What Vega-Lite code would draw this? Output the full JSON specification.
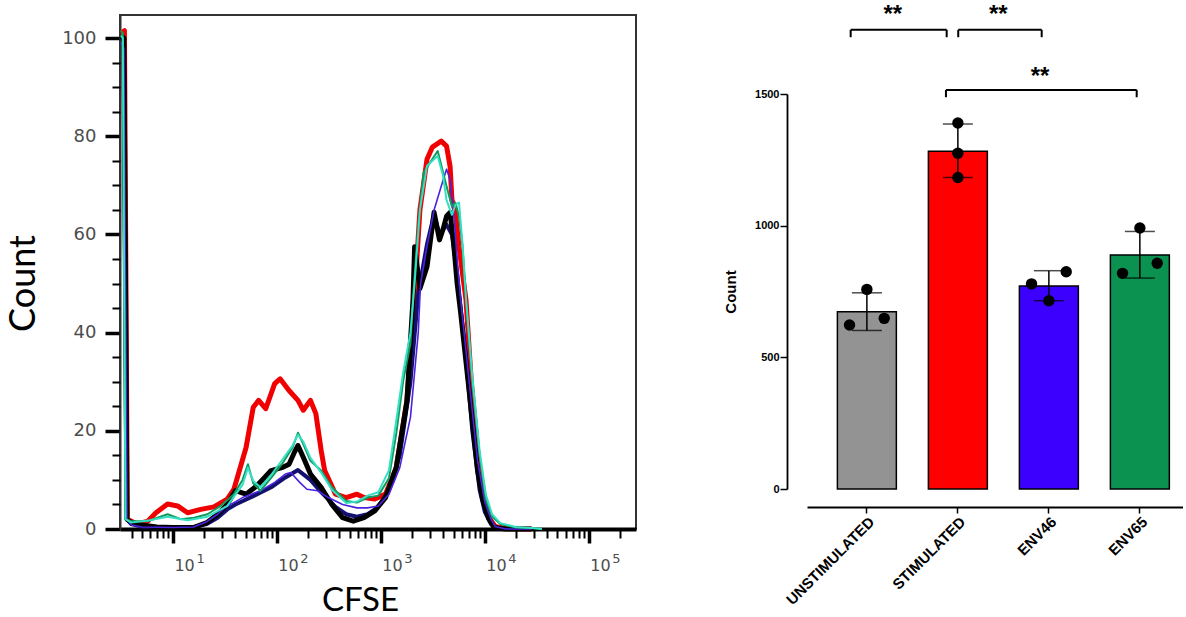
{
  "$schema": "https://vega.github.io/schema/vega-lite/v6.json",
  "background": "white",
  "padding": {"left": 4, "top": 2, "right": 0, "bottom": 0},
  "config": {"view": {"stroke": null}, "axis": {"grid": false}},
  "bounds": "flush",
  "spacing": 171,
  "datasets": {
    "hist": [
      {"s":"red","x":3.162,"y":101},{"s":"red","x":3.42,"y":101.5},{"s":"red","x":3.65,"y":2.0},{"s":"red","x":4.5,"y":1.0},{"s":"red","x":5.73,"y":1.6},{"s":"red","x":6.87,"y":3.3},{"s":"red","x":8.89,"y":5.1},{"s":"red","x":11.09,"y":4.7},{"s":"red","x":13.84,"y":3.3},{"s":"red","x":18.54,"y":4.0},{"s":"red","x":24.83,"y":4.5},{"s":"red","x":33.34,"y":6.1},{"s":"red","x":38.64,"y":8.1},{"s":"red","x":50.58,"y":16.6},{"s":"red","x":59.29,"y":24.8},{"s":"red","x":66.83,"y":26.2},{"s":"red","x":78.16,"y":24.5},{"s":"red","x":95.3,"y":29.6},{"s":"red","x":107.4,"y":30.6},{"s":"red","x":130.9,"y":28.2},{"s":"red","x":159.6,"y":26.2},{"s":"red","x":179.5,"y":24.2},{"s":"red","x":210.4,"y":26.2},{"s":"red","x":237.1,"y":23.5},{"s":"red","x":266.7,"y":16.0},{"s":"red","x":288.4,"y":11.9},{"s":"red","x":366.4,"y":7.1},{"s":"red","x":464.5,"y":6.4},{"s":"red","x":588.8,"y":7.1},{"s":"red","x":688.7,"y":6.4},{"s":"red","x":875,"y":6.1},{"s":"red","x":1109,"y":7.1},{"s":"red","x":1406,"y":12.5},{"s":"red","x":1782,"y":26.2},{"s":"red","x":2037,"y":42},{"s":"red","x":2377,"y":65},{"s":"red","x":2780,"y":75.3},{"s":"red","x":3133,"y":77.8},{"s":"red","x":3811,"y":79},{"s":"red","x":4285,"y":78},{"s":"red","x":4634,"y":73.9},{"s":"red","x":4831,"y":67.1},{"s":"red","x":5212,"y":64.5},{"s":"red","x":5649,"y":57.5},{"s":"red","x":6592,"y":46.7},{"s":"red","x":7413,"y":30},{"s":"red","x":8710,"y":14},{"s":"red","x":10000,"y":6},{"s":"red","x":11220,"y":2},{"s":"red","x":12589,"y":0.5},{"s":"red","x":15849,"y":0.1},{"s":"red","x":28184,"y":0},
      {"s":"navy","x":3.162,"y":100},{"s":"navy","x":3.38,"y":99.5},{"s":"navy","x":3.62,"y":2},{"s":"navy","x":3.98,"y":1.0},{"s":"navy","x":5.0,"y":0.5},{"s":"navy","x":7.0,"y":0.3},{"s":"navy","x":10,"y":0.3},{"s":"navy","x":15.85,"y":0.4},{"s":"navy","x":21.18,"y":1.0},{"s":"navy","x":26.92,"y":2.3},{"s":"navy","x":33.34,"y":4.0},{"s":"navy","x":39.9,"y":5.0},{"s":"navy","x":59.29,"y":6.7},{"s":"navy","x":88.1,"y":8.5},{"s":"navy","x":120.8,"y":10.5},{"s":"navy","x":159.6,"y":12},{"s":"navy","x":210.4,"y":10},{"s":"navy","x":266.7,"y":7.5},{"s":"navy","x":366.4,"y":4.5},{"s":"navy","x":464.5,"y":3.0},{"s":"navy","x":588.8,"y":2.5},{"s":"navy","x":746.4,"y":3.0},{"s":"navy","x":946.2,"y":4.5},{"s":"navy","x":1199,"y":8},{"s":"navy","x":1521,"y":15},{"s":"navy","x":1928,"y":30},{"s":"navy","x":2291,"y":48},{"s":"navy","x":2780,"y":58},{"s":"navy","x":3251,"y":64},{"s":"navy","x":3664,"y":60},{"s":"navy","x":4285,"y":62},{"s":"navy","x":4831,"y":60},{"s":"navy","x":5420,"y":52},{"s":"navy","x":5861,"y":45},{"s":"navy","x":6592,"y":35},{"s":"navy","x":7586,"y":20},{"s":"navy","x":8913,"y":8},{"s":"navy","x":10000,"y":3.5},{"s":"navy","x":11482,"y":1},{"s":"navy","x":12589,"y":0.3},{"s":"navy","x":15849,"y":0},{"s":"navy","x":28184,"y":0},
      {"s":"black","x":3.162,"y":100.5},{"s":"black","x":3.38,"y":100},{"s":"black","x":3.62,"y":2},{"s":"black","x":3.98,"y":1.3},{"s":"black","x":5.0,"y":0.8},{"s":"black","x":7.0,"y":0.4},{"s":"black","x":10,"y":0.3},{"s":"black","x":15.85,"y":0.3},{"s":"black","x":21.18,"y":1.3},{"s":"black","x":26.92,"y":3.0},{"s":"black","x":33.34,"y":5.0},{"s":"black","x":39.9,"y":7.8},{"s":"black","x":50.58,"y":7.1},{"s":"black","x":64.27,"y":8.8},{"s":"black","x":88.1,"y":11.9},{"s":"black","x":111.7,"y":12.5},{"s":"black","x":130.9,"y":13.2},{"s":"black","x":147.2,"y":15.6},{"s":"black","x":159.6,"y":17.0},{"s":"black","x":179.5,"y":14.6},{"s":"black","x":210.4,"y":11.2},{"s":"black","x":266.7,"y":8.5},{"s":"black","x":338.1,"y":5.0},{"s":"black","x":428.5,"y":2.3},{"s":"black","x":543.3,"y":1.6},{"s":"black","x":688.7,"y":2.3},{"s":"black","x":875,"y":3.7},{"s":"black","x":1109,"y":6.4},{"s":"black","x":1406,"y":12.5},{"s":"black","x":1782,"y":26},{"s":"black","x":2037,"y":46.7},{"s":"black","x":2113,"y":57.5},{"s":"black","x":2190,"y":55},{"s":"black","x":2377,"y":49},{"s":"black","x":2780,"y":53.4},{"s":"black","x":3251,"y":64.5},{"s":"black","x":3664,"y":58.9},{"s":"black","x":3963,"y":61},{"s":"black","x":4285,"y":63.7},{"s":"black","x":4634,"y":64.5},{"s":"black","x":5012,"y":58.3},{"s":"black","x":5420,"y":50},{"s":"black","x":5861,"y":44},{"s":"black","x":7079,"y":28},{"s":"black","x":8511,"y":12},{"s":"black","x":9550,"y":6},{"s":"black","x":10965,"y":2},{"s":"black","x":12303,"y":0.3},{"s":"black","x":15849,"y":0},{"s":"black","x":28184,"y":0},
      {"s":"violet","x":3.162,"y":99},{"s":"violet","x":3.38,"y":98},{"s":"violet","x":3.62,"y":2},{"s":"violet","x":3.98,"y":0.8},{"s":"violet","x":5.0,"y":0.4},{"s":"violet","x":10,"y":0.3},{"s":"violet","x":15.85,"y":0.4},{"s":"violet","x":21.18,"y":1.5},{"s":"violet","x":26.92,"y":3.0},{"s":"violet","x":31.48,"y":4.3},{"s":"violet","x":46.77,"y":6.4},{"s":"violet","x":69.5,"y":7.8},{"s":"violet","x":95.3,"y":9.5},{"s":"violet","x":120.8,"y":11.2},{"s":"violet","x":136.1,"y":11.5},{"s":"violet","x":166,"y":9.5},{"s":"violet","x":194.5,"y":8.1},{"s":"violet","x":246.6,"y":7.8},{"s":"violet","x":312.6,"y":6.4},{"s":"violet","x":428.5,"y":5.0},{"s":"violet","x":588.8,"y":4.3},{"s":"violet","x":746.4,"y":4.3},{"s":"violet","x":946.2,"y":4.7},{"s":"violet","x":1199,"y":7.1},{"s":"violet","x":1521,"y":12.5},{"s":"violet","x":1928,"y":22.8},{"s":"violet","x":2291,"y":40},{"s":"violet","x":2410,"y":50},{"s":"violet","x":2780,"y":57.5},{"s":"violet","x":3251,"y":65},{"s":"violet","x":3811,"y":69.8},{"s":"violet","x":4285,"y":73.3},{"s":"violet","x":4634,"y":71.2},{"s":"violet","x":5012,"y":64.5},{"s":"violet","x":5420,"y":54.9},{"s":"violet","x":5861,"y":46.7},{"s":"violet","x":7079,"y":30},{"s":"violet","x":8511,"y":14},{"s":"violet","x":10000,"y":5.5},{"s":"violet","x":11482,"y":2},{"s":"violet","x":12589,"y":0.5},{"s":"violet","x":15849,"y":0},{"s":"violet","x":28184,"y":0},
      {"s":"green","x":3.162,"y":101.5},{"s":"green","x":3.3,"y":101},{"s":"green","x":3.5,"y":2},{"s":"green","x":3.98,"y":1.6},{"s":"green","x":5.73,"y":1.6},{"s":"green","x":7.13,"y":2.3},{"s":"green","x":8.89,"y":3.0},{"s":"green","x":11.9,"y":2.0},{"s":"green","x":16.0,"y":2.3},{"s":"green","x":21.5,"y":3.0},{"s":"green","x":28.8,"y":4.7},{"s":"green","x":38.6,"y":7.1},{"s":"green","x":46.77,"y":10},{"s":"green","x":52.72,"y":13.2},{"s":"green","x":59.29,"y":9.3},{"s":"green","x":69.5,"y":7.8},{"s":"green","x":88.1,"y":10.4},{"s":"green","x":111.7,"y":13.2},{"s":"green","x":141.6,"y":16.6},{"s":"green","x":159.6,"y":19.6},{"s":"green","x":179.5,"y":17.3},{"s":"green","x":210.4,"y":13.9},{"s":"green","x":266.7,"y":11.9},{"s":"green","x":338.1,"y":8.5},{"s":"green","x":464.5,"y":5.7},{"s":"green","x":588.8,"y":5.4},{"s":"green","x":746.4,"y":6.4},{"s":"green","x":946.2,"y":6.8},{"s":"green","x":1199,"y":10.4},{"s":"green","x":1406,"y":19.4},{"s":"green","x":1644,"y":30.3},{"s":"green","x":1928,"y":37.8},{"s":"green","x":2037,"y":46.7},{"s":"green","x":2291,"y":62},{"s":"green","x":2576,"y":72.6},{"s":"green","x":3524,"y":77},{"s":"green","x":4285,"y":69.8},{"s":"green","x":4831,"y":65.7},{"s":"green","x":5212,"y":66.5},{"s":"green","x":5649,"y":63.7},{"s":"green","x":6109,"y":57.5},{"s":"green","x":6592,"y":46.7},{"s":"green","x":7586,"y":30},{"s":"green","x":8913,"y":15},{"s":"green","x":10230,"y":6},{"s":"green","x":11749,"y":2.5},{"s":"green","x":14125,"y":1},{"s":"green","x":19953,"y":0.3},{"s":"green","x":28184,"y":0.2},{"s":"green","x":35481,"y":0},
      {"s":"cyan","x":3.162,"y":100.5},{"s":"cyan","x":3.3,"y":100},{"s":"cyan","x":3.5,"y":2},{"s":"cyan","x":3.98,"y":1.3},{"s":"cyan","x":6.0,"y":1.8},{"s":"cyan","x":8.89,"y":2.5},{"s":"cyan","x":13.84,"y":1.8},{"s":"cyan","x":21.5,"y":2.5},{"s":"cyan","x":33.34,"y":4.7},{"s":"cyan","x":46.77,"y":9},{"s":"cyan","x":52.72,"y":12.5},{"s":"cyan","x":59.29,"y":9.8},{"s":"cyan","x":69.5,"y":8.5},{"s":"cyan","x":88.1,"y":11},{"s":"cyan","x":111.7,"y":14},{"s":"cyan","x":141.6,"y":17},{"s":"cyan","x":159.6,"y":19.2},{"s":"cyan","x":179.5,"y":17.8},{"s":"cyan","x":210.4,"y":14.5},{"s":"cyan","x":266.7,"y":11.5},{"s":"cyan","x":338.1,"y":8},{"s":"cyan","x":464.5,"y":5.3},{"s":"cyan","x":588.8,"y":5.6},{"s":"cyan","x":746.4,"y":6.8},{"s":"cyan","x":946.2,"y":7.5},{"s":"cyan","x":1199,"y":12},{"s":"cyan","x":1406,"y":22},{"s":"cyan","x":1644,"y":32},{"s":"cyan","x":1928,"y":40},{"s":"cyan","x":2113,"y":50},{"s":"cyan","x":2377,"y":65},{"s":"cyan","x":2780,"y":74},{"s":"cyan","x":3524,"y":76},{"s":"cyan","x":3963,"y":72},{"s":"cyan","x":4285,"y":67},{"s":"cyan","x":4831,"y":64},{"s":"cyan","x":5212,"y":66},{"s":"cyan","x":5649,"y":66.5},{"s":"cyan","x":6109,"y":58},{"s":"cyan","x":6592,"y":47},{"s":"cyan","x":7586,"y":31},{"s":"cyan","x":8913,"y":16},{"s":"cyan","x":10230,"y":7},{"s":"cyan","x":11749,"y":3},{"s":"cyan","x":14125,"y":1.2},{"s":"cyan","x":19953,"y":0.4},{"s":"cyan","x":28184,"y":0.2},{"s":"cyan","x":35481,"y":0}
    ],
    "bars": [
      {"group":"UNSTIMULATED","mean":673,"lo":602,"hi":745},
      {"group":"STIMULATED","mean":1283,"lo":1183,"hi":1386},
      {"group":"ENV46","mean":771,"lo":715,"hi":829},
      {"group":"ENV65","mean":889,"lo":801,"hi":978}
    ],
    "pts": [
      {"group":"UNSTIMULATED","pos":"C","value":758},{"group":"UNSTIMULATED","pos":"L","value":623},{"group":"UNSTIMULATED","pos":"R","value":648},
      {"group":"STIMULATED","pos":"C","value":1390},{"group":"STIMULATED","pos":"C","value":1275},{"group":"STIMULATED","pos":"C","value":1183},
      {"group":"ENV46","pos":"L","value":779},{"group":"ENV46","pos":"R","value":825},{"group":"ENV46","pos":"C","value":715},
      {"group":"ENV65","pos":"C","value":991},{"group":"ENV65","pos":"R","value":857},{"group":"ENV65","pos":"L","value":819}
    ],
    "brk": [
      {"x1":-0.178,"x2":0.877,"y1":1741,"y2":1741},{"x1":-0.178,"x2":-0.178,"y1":1741,"y2":1713},{"x1":0.877,"x2":0.877,"y1":1741,"y2":1713},
      {"x1":1.004,"x2":1.921,"y1":1741,"y2":1741},{"x1":1.004,"x2":1.004,"y1":1741,"y2":1713},{"x1":1.921,"x2":1.921,"y1":1741,"y2":1713},
      {"x1":0.869,"x2":2.965,"y1":1513,"y2":1513},{"x1":0.869,"x2":0.869,"y1":1513,"y2":1485},{"x1":2.965,"x2":2.965,"y1":1513,"y2":1485}
    ],
    "stars": [
      {"x":0.284,"y":1771,"label":"**"},{"x":1.444,"y":1771,"label":"**"},{"x":1.903,"y":1537,"label":"**"}
    ]
  },
  "hconcat": [
    {
      "width": 516,
      "height": 514,
      "view": {"stroke": "#333333", "strokeWidth": 2},
      "data": {"name": "hist"},
      "resolve": {"axis": {"x": "independent", "y": "independent"}},
      "layer": [
        {
          "transform": [{"filter": "datum.s === 'red'"}],
          "mark": {"type": "line", "color": "#f00000", "strokeWidth": 5, "strokeJoin": "round"},
          "encoding": {
            "x": {"field": "x", "type": "quantitative", "scale": {"type": "log", "domain": [3.1, 284600]},
              "axis": {"orient": "bottom", "values": [10, 100, 1000, 10000, 100000], "labelExpr": "'10'", "labelAlign": "left", "labelOffset": 1, "labelFont": "DejaVu Sans", "labelFontSize": 16, "labelColor": "#4d4d4d", "labelPadding": 14, "labelFlush": false, "labelOverlap": false, "labelBound": false, "tickSize": 14, "tickWidth": 3.5, "tickColor": "#000000", "domainColor": "#000000", "domainWidth": 4, "title": "CFSE", "titleFont": "Lato", "titleFontSize": 33, "titleFontWeight": "normal", "titleColor": "#000000", "titlePadding": 11, "titleX": 240}},
            "y": {"field": "y", "type": "quantitative", "scale": {"domain": [0, 104.7]},
              "axis": {"orient": "left", "values": [0, 20, 40, 60, 80, 100], "tickSize": 15, "tickWidth": 3.5, "tickColor": "#000000", "labelFont": "DejaVu Sans", "labelFontSize": 18, "labelColor": "#4d4d4d", "labelPadding": 9, "labelFlush": false, "labelOverlap": false, "domainColor": "#333333", "domainWidth": 2, "title": "Count", "titleFont": "Lato", "titleFontSize": 36, "titleFontWeight": "normal", "titleColor": "#000000", "titlePadding": 19, "titleY": 268}}
          }
        },
        {
          "transform": [{"filter": "datum.s === 'navy'"}],
          "mark": {"type": "line", "color": "#14106e", "strokeWidth": 4, "strokeJoin": "round"},
          "encoding": {
            "x": {"field": "x", "type": "quantitative", "scale": {"type": "log", "domain": [3.1, 284600]},
              "axis": {"orient": "bottom", "values": [10, 100, 1000, 10000, 100000], "labelExpr": "'' + round(log(datum.value) / LN10)", "labelAlign": "left", "labelOffset": 23, "labelFont": "DejaVu Sans", "labelFontSize": 13, "labelColor": "#4d4d4d", "labelPadding": 9, "labelFlush": false, "labelOverlap": false, "labelBound": false, "tickSize": 14, "tickOpacity": 0, "domain": false, "title": null}},
            "y": {"field": "y", "type": "quantitative", "scale": {"domain": [0, 104.7]},
              "axis": {"orient": "left", "values": [5, 10, 15, 25, 30, 35, 45, 50, 55, 65, 70, 75, 85, 90, 95], "tickSize": 8, "tickWidth": 2, "tickColor": "#000000", "labels": false, "domain": false, "title": null}}
          }
        },
        {
          "transform": [{"filter": "datum.s === 'black'"}],
          "mark": {"type": "line", "color": "#000000", "strokeWidth": 5, "strokeJoin": "round"},
          "encoding": {
            "x": {"field": "x", "type": "quantitative", "scale": {"type": "log", "domain": [3.1, 284600]},
              "axis": {"orient": "bottom", "values": [4, 5, 6, 7, 8, 9, 20, 30, 40, 50, 60, 70, 80, 90, 200, 300, 400, 500, 600, 700, 800, 900, 2000, 3000, 4000, 5000, 6000, 7000, 8000, 9000, 20000, 30000, 40000, 50000, 60000, 70000, 80000, 90000, 200000], "tickSize": 9, "tickWidth": 2, "tickColor": "#000000", "labels": false, "domain": false, "title": null}},
            "y": {"field": "y", "type": "quantitative", "scale": {"domain": [0, 104.7]}, "axis": null}
          }
        },
        {
          "transform": [{"filter": "datum.s === 'violet'"}],
          "mark": {"type": "line", "color": "#4b22e0", "strokeWidth": 1.6, "strokeJoin": "round"},
          "encoding": {
            "x": {"field": "x", "type": "quantitative", "scale": {"type": "log", "domain": [3.1, 284600]}, "axis": null},
            "y": {"field": "y", "type": "quantitative", "scale": {"domain": [0, 104.7]}, "axis": null}
          }
        },
        {
          "transform": [{"filter": "datum.s === 'green'"}],
          "mark": {"type": "line", "color": "#109a5e", "strokeWidth": 2, "strokeJoin": "round"},
          "encoding": {
            "x": {"field": "x", "type": "quantitative", "scale": {"type": "log", "domain": [3.1, 284600]}, "axis": null},
            "y": {"field": "y", "type": "quantitative", "scale": {"domain": [0, 104.7]}, "axis": null}
          }
        },
        {
          "transform": [{"filter": "datum.s === 'cyan'"}],
          "mark": {"type": "line", "color": "#35dfc4", "strokeWidth": 2, "strokeJoin": "round"},
          "encoding": {
            "x": {"field": "x", "type": "quantitative", "scale": {"type": "log", "domain": [3.1, 284600]}, "axis": null},
            "y": {"field": "y", "type": "quantitative", "scale": {"domain": [0, 104.7]}, "axis": null}
          }
        }
      ]
    },
    {
      "bounds": "flush",
      "spacing": 0,
      "resolve": {"scale": {"x": "independent", "y": "independent"}},
      "vconcat": [
        {
          "width": 376,
          "height": 78.3,
          "layer": [
            {
              "data": {"name": "brk"},
              "mark": {"type": "rule", "color": "#000000", "strokeWidth": 2},
              "encoding": {
                "x": {"field": "x1", "type": "quantitative", "scale": {"domain": [-0.658, 3.474]}, "axis": null},
                "x2": {"field": "x2"},
                "y": {"field": "y1", "type": "quantitative", "scale": {"domain": [1500, 1797.3]}, "axis": null},
                "y2": {"field": "y2"}
              }
            },
            {
              "data": {"name": "stars"},
              "mark": {"type": "text", "font": "Liberation Sans", "fontSize": 24, "fontWeight": "bold", "color": "#000000", "baseline": "alphabetic", "align": "center"},
              "encoding": {
                "x": {"field": "x", "type": "quantitative", "scale": {"domain": [-0.658, 3.474]}, "axis": null},
                "y": {"field": "y", "type": "quantitative", "scale": {"domain": [1500, 1797.3]}, "axis": null},
                "text": {"field": "label"}
              }
            }
          ]
        },
        {
          "width": 376,
          "height": 395,
          "resolve": {"scale": {"x": "independent", "xOffset": "independent"}, "axis": {"x": "independent"}},
          "layer": [
            {
              "data": {"name": "bars"},
              "mark": {"type": "bar", "stroke": "#000000", "strokeWidth": 1.5},
              "encoding": {
                "x": {"field": "group", "type": "nominal", "sort": ["UNSTIMULATED", "STIMULATED", "ENV46", "ENV65"],
                  "scale": {"paddingInner": 0.352, "paddingOuter": 0.242, "align": 0.69},
                  "axis": {"offset": 18, "tickSize": 6, "tickWidth": 1.5, "tickColor": "#000000", "domainColor": "#000000", "domainWidth": 1.8, "labelAngle": -45, "labelBaseline": "top", "labelAlign": "right", "labelFont": "Liberation Sans", "labelFontSize": 15, "labelFontWeight": "bold", "labelColor": "#000000", "labelPadding": 1, "title": null}},
                "y": {"field": "mean", "type": "quantitative", "scale": {"domain": [0, 1500]}, "stack": null,
                  "axis": {"offset": 20, "values": [0, 500, 1000, 1500], "format": "d", "tickSize": 7, "tickWidth": 1.5, "tickColor": "#000000", "domainColor": "#000000", "domainWidth": 1.8, "labelFont": "Liberation Sans", "labelFontSize": 11, "labelFontWeight": "bold", "labelColor": "#000000", "labelPadding": 1, "title": "Count", "titleFont": "Liberation Sans", "titleFontSize": 15, "titleFontWeight": "bold", "titleColor": "#000000", "titlePadding": 16}},
                "color": {"field": "group", "type": "nominal", "scale": {"domain": ["UNSTIMULATED", "STIMULATED", "ENV46", "ENV65"], "range": ["#939393", "#fe0000", "#3c00ff", "#0b9150"]}, "legend": null}
              }
            },
            {
              "data": {"name": "bars"},
              "mark": {"type": "rule", "color": "#000000", "strokeWidth": 1.5},
              "encoding": {
                "x": {"field": "group", "type": "nominal", "sort": ["UNSTIMULATED", "STIMULATED", "ENV46", "ENV65"], "scale": {"paddingInner": 0.352, "paddingOuter": 0.242, "align": 0.69}, "axis": null},
                "y": {"field": "lo", "type": "quantitative", "scale": {"domain": [0, 1500]}, "axis": {"offset": 20, "values": [0, 500, 1000, 1500], "format": "d", "tickSize": 7, "tickWidth": 1.5, "tickColor": "#000000", "domainColor": "#000000", "domainWidth": 1.8, "labelFont": "Liberation Sans", "labelFontSize": 11, "labelFontWeight": "bold", "labelColor": "#000000", "labelPadding": 1, "title": "Count", "titleFont": "Liberation Sans", "titleFontSize": 15, "titleFontWeight": "bold", "titleColor": "#000000", "titlePadding": 16}},
                "y2": {"field": "hi"}
              }
            },
            {
              "data": {"name": "bars"},
              "mark": {"type": "tick", "color": "#000000", "thickness": 1.5, "size": 30},
              "encoding": {
                "x": {"field": "group", "type": "nominal", "sort": ["UNSTIMULATED", "STIMULATED", "ENV46", "ENV65"], "scale": {"paddingInner": 0.352, "paddingOuter": 0.242, "align": 0.69}, "axis": null},
                "y": {"field": "lo", "type": "quantitative", "scale": {"domain": [0, 1500]}, "axis": {"offset": 20, "values": [0, 500, 1000, 1500], "format": "d", "tickSize": 7, "tickWidth": 1.5, "tickColor": "#000000", "domainColor": "#000000", "domainWidth": 1.8, "labelFont": "Liberation Sans", "labelFontSize": 11, "labelFontWeight": "bold", "labelColor": "#000000", "labelPadding": 1, "title": "Count", "titleFont": "Liberation Sans", "titleFontSize": 15, "titleFontWeight": "bold", "titleColor": "#000000", "titlePadding": 16}}
              }
            },
            {
              "data": {"name": "bars"},
              "mark": {"type": "tick", "color": "#000000", "thickness": 1.5, "size": 30},
              "encoding": {
                "x": {"field": "group", "type": "nominal", "sort": ["UNSTIMULATED", "STIMULATED", "ENV46", "ENV65"], "scale": {"paddingInner": 0.352, "paddingOuter": 0.242, "align": 0.69}, "axis": null},
                "y": {"field": "hi", "type": "quantitative", "scale": {"domain": [0, 1500]}, "axis": {"offset": 20, "values": [0, 500, 1000, 1500], "format": "d", "tickSize": 7, "tickWidth": 1.5, "tickColor": "#000000", "domainColor": "#000000", "domainWidth": 1.8, "labelFont": "Liberation Sans", "labelFontSize": 11, "labelFontWeight": "bold", "labelColor": "#000000", "labelPadding": 1, "title": "Count", "titleFont": "Liberation Sans", "titleFontSize": 15, "titleFontWeight": "bold", "titleColor": "#000000", "titlePadding": 16}}
              }
            },
            {
              "data": {"name": "pts"},
              "mark": {"type": "circle", "color": "#000000", "size": 130, "opacity": 1},
              "encoding": {
                "x": {"field": "group", "type": "nominal", "sort": ["UNSTIMULATED", "STIMULATED", "ENV46", "ENV65"], "scale": {"paddingInner": 0.352, "paddingOuter": 0.242, "align": 0.69}, "axis": null},
                "xOffset": {"field": "pos", "type": "nominal", "scale": {"domain": ["L", "C", "R"], "paddingInner": 0, "paddingOuter": 0.7}},
                "y": {"field": "value", "type": "quantitative", "scale": {"domain": [0, 1500]}, "axis": {"offset": 20, "values": [0, 500, 1000, 1500], "format": "d", "tickSize": 7, "tickWidth": 1.5, "tickColor": "#000000", "domainColor": "#000000", "domainWidth": 1.8, "labelFont": "Liberation Sans", "labelFontSize": 11, "labelFontWeight": "bold", "labelColor": "#000000", "labelPadding": 1, "title": "Count", "titleFont": "Liberation Sans", "titleFontSize": 15, "titleFontWeight": "bold", "titleColor": "#000000", "titlePadding": 16}}
              }
            }
          ]
        }
      ]
    }
  ]
}
